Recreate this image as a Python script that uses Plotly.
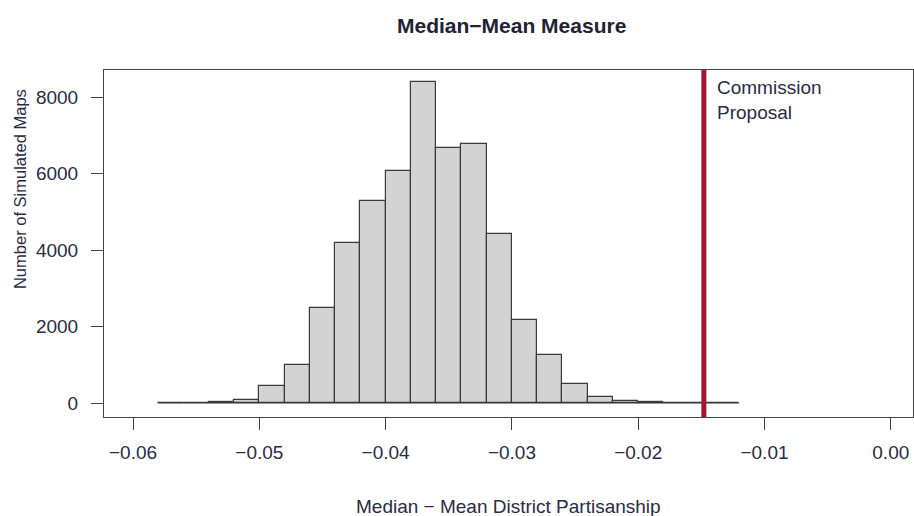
import plotly.graph_objects as go

# Histogram of the median-minus-mean measure across simulated maps
bin_start = -0.058
bin_width = 0.002
counts = [0, 0, 20, 80, 440, 990, 2480, 4190, 5280, 6060, 8380, 6670,
          6780, 4430, 2160, 1250, 500, 150, 55, 20, 0, 0, 0]

# Value of the commission's proposed map
proposal_value = -0.0148
proposal_label = "Commission<br>Proposal"

x_tick_vals = [-0.06, -0.05, -0.04, -0.03, -0.02, -0.01, 0.00]
x_tick_text = ["\u22120.06", "\u22120.05", "\u22120.04", "\u22120.03", "\u22120.02", "\u22120.01", "0.00"]
y_tick_vals = [0, 2000, 4000, 6000, 8000]
y_tick_text = ["0", "2000", "4000", "6000", "8000"]

title_text = "Median\u2212Mean Measure"
x_title = "Median \u2212 Mean District Partisanship"
y_title = "Number of Simulated Maps"

edges = [bin_start + i * bin_width for i in range(len(counts) + 1)]
centers = [(edges[i] + edges[i + 1]) / 2 for i in range(len(counts))]

FONT = "Liberation Sans, Arial, sans-serif"
TXT = "#2b2b45"

fig = go.Figure()

# baseline drawn by the zero-height bins
fig.add_trace(go.Scatter(
    x=[edges[0], edges[-1]], y=[0, 0], mode="lines",
    line=dict(color="#333333", width=1.2), hoverinfo="skip", showlegend=False,
))

fig.add_trace(go.Bar(
    x=centers, y=counts, width=bin_width,
    marker=dict(color="#d3d3d3", line=dict(color="#3a3a3a", width=1.2)),
    showlegend=False,
))

fig.add_shape(type="line", xref="x", yref="paper",
              x0=proposal_value, x1=proposal_value, y0=0, y1=1,
              line=dict(color="#a0172e", width=5), layer="above")

fig.add_annotation(x=proposal_value, xref="x", y=0.985, yref="paper",
                   xanchor="left", yanchor="top", xshift=11,
                   text=proposal_label, showarrow=False, align="left",
                   font=dict(family=FONT, size=19, color=TXT))

fig.add_annotation(x=0.504, xref="paper", y=1.127, yref="paper",
                   xanchor="center", yanchor="middle",
                   text="<b>" + title_text + "</b>", showarrow=False,
                   font=dict(family=FONT, size=21, color="#222233"))

fig.add_annotation(x=0.5, xref="paper", y=-0.2565, yref="paper",
                   xanchor="center", yanchor="middle",
                   text=x_title, showarrow=False,
                   font=dict(family=FONT, size=19, color=TXT))

fig.add_annotation(x=-0.1038, xref="paper", y=0.657, yref="paper",
                   xanchor="center", yanchor="middle", textangle=-90,
                   text=y_title, showarrow=False,
                   font=dict(family=FONT, size=16.5, color=TXT))

fig.update_layout(
    width=914, height=516,
    margin=dict(l=104, r=1, t=70, b=99),
    paper_bgcolor="white", plot_bgcolor="white",
    bargap=0,
    xaxis=dict(
        range=[-0.0623, 0.00176], tickvals=x_tick_vals, ticktext=x_tick_text,
        ticks="outside", ticklen=12, tickcolor="#444444", tickwidth=1,
        showline=True, mirror=True, linecolor="#444444", linewidth=1,
        showgrid=False, zeroline=False, ticklabelstandoff=6,
        tickfont=dict(family=FONT, size=19, color=TXT),
    ),
    yaxis=dict(
        range=[-366, 8706], tickvals=y_tick_vals, ticktext=y_tick_text,
        ticks="outside", ticklen=12, tickcolor="#444444", tickwidth=1,
        showline=True, mirror=True, linecolor="#444444", linewidth=1,
        showgrid=False, zeroline=False, ticklabelstandoff=9,
        tickfont=dict(family=FONT, size=19, color=TXT),
    ),
)

fig.write_html("out.html")
